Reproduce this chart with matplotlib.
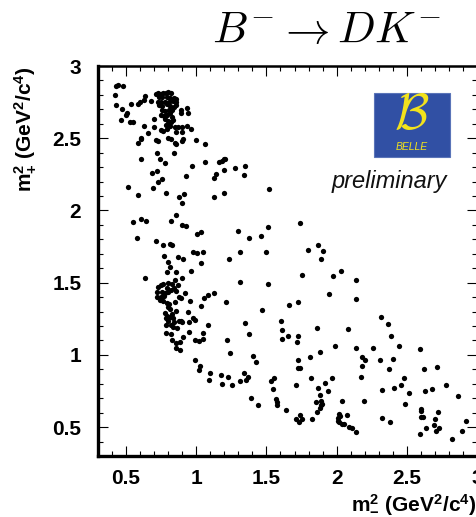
import numpy as np
import matplotlib
matplotlib.use("Agg")
import matplotlib.pyplot as plt
from matplotlib.patches import Rectangle
from matplotlib.ticker import MultipleLocator

plt.rcParams['font.family'] = ['Liberation Sans', 'DejaVu Sans']
plt.rcParams['mathtext.fontset'] = 'custom'
plt.rcParams['mathtext.rm'] = 'Liberation Sans:bold'
plt.rcParams['mathtext.bf'] = 'Liberation Sans:bold'
plt.rcParams['mathtext.it'] = 'Liberation Sans:bold'
plt.rcParams['mathtext.default'] = 'bf'

# B- -> D K- candidates, Dalitz variables (GeV^2/c^4)
m2_minus = [
    # low m2_minus, high m2_plus corner
    0.426, 0.442, 0.478, 0.421, 0.430, 0.473, 0.504, 0.497, 0.466, 0.525,
    0.549, 0.537, 0.585, 0.596, 0.634, 0.630, 0.679,
    0.715, 0.729, 0.746, 0.765, 0.784, 0.800, 0.817, 0.734, 0.758, 0.793,
    0.812, 0.841, 0.857, 0.724, 0.748, 0.774, 0.805, 0.834, 0.853, 0.734,
    0.758, 0.789, 0.812, 0.841, 0.857, 0.758, 0.777, 0.805, 0.829, 0.888,
    0.893, 0.933, 0.943, 0.746, 0.770, 0.789, 0.812, 0.824, 0.777, 0.798,
    0.817, 0.834, 0.805, 0.781, 0.815, 0.848, 0.872, 0.895, 0.936, 0.964,
    0.746, 0.765, 0.793, 0.857, 0.895, 0.698, 0.698, 0.627, 0.656, 0.713,
    0.724, 0.800, 0.819, 0.845, 0.857, 0.895, 0.905, 0.995, 1.061, 0.604,
    0.608, 0.587, 0.722, 0.741, 0.779, 0.841, 0.604, 0.687, 0.722, 0.724,
    0.753, 0.694, 0.513, 0.587, 0.781, 0.876, 0.912, 0.924, 0.971, 1.061,
    1.125, 1.142, 1.161, 1.180, 1.197, 1.208, 1.197, 1.275, 1.346, 1.341,
    1.125, 1.197,
    # middle band
    0.900, 0.549, 0.604, 0.639, 0.853, 0.817, 0.900, 0.924, 1.002, 1.035,
    1.299, 1.374, 0.575, 0.710, 0.765, 0.810, 0.829, 0.772, 0.800, 0.810,
    0.872, 0.905, 0.978, 1.007, 1.045, 1.035, 1.232, 1.313, 0.791, 0.853,
    0.966, 0.900, 0.632, 1.310,
    0.798, 0.746, 0.765, 0.848, 0.824, 0.869, 0.843, 0.729, 0.789, 0.722,
    0.755, 0.777, 0.798, 0.822, 0.853, 0.876, 0.890, 0.919, 0.717, 0.746,
    0.770, 0.739, 0.762, 0.789, 0.807, 0.800, 0.848, 0.857, 0.812, 0.826,
    0.777, 0.793, 0.812, 0.831, 0.781, 0.796, 0.841, 0.876, 0.893, 0.900,
    0.943, 0.955, 0.976, 0.988, 0.947, 0.786, 0.817, 0.834, 0.864, 1.033,
    1.054, 1.085, 1.123, 1.211, 1.085, 1.346,
    # lower left
    0.786, 0.817, 0.947, 1.047, 1.374, 0.829, 0.853, 0.883, 0.907, 0.857,
    0.881, 0.990, 1.023, 1.047, 1.220, 1.237, 0.990, 1.030, 1.019, 1.405,
    1.429, 1.095, 1.090, 1.173, 1.180, 1.225, 1.258, 1.313, 1.337, 1.351,
    1.367, 1.391, 1.441,
    # upper right
    1.520, 1.513, 1.458, 1.738, 1.494, 1.797, 1.868, 1.904, 1.892,
    # lower right
    1.513, 1.755, 1.973, 2.032, 2.141, 1.944, 2.136, 1.465, 1.660, 1.728,
    1.603, 1.610, 1.612, 1.655, 1.728, 1.719, 1.859, 2.082, 1.989, 1.878,
    1.809, 1.726, 1.738, 1.726, 1.553, 1.536, 1.546, 1.567, 1.574, 1.577,
    1.641, 1.714, 1.814, 1.866, 1.916, 1.937, 1.878, 1.970, 1.892, 1.897,
    1.887, 1.880, 1.859, 1.854, 1.709, 1.736, 1.731, 1.755, 1.826, 2.037,
    2.020, 2.027, 2.011, 2.011, 2.020, 2.039, 2.053, 2.077, 2.087, 2.110,
    2.141, 2.139, 2.179, 2.205, 2.184, 2.172, 2.196, 2.257, 2.310, 2.319,
    2.369, 2.385, 2.442, 2.400, 2.371, 2.326, 2.412, 2.480, 2.461, 2.516,
    2.490, 2.324, 2.381, 2.592, 2.625, 2.713, 2.779, 2.677, 2.627, 2.599,
    2.601, 2.599, 2.618, 2.635, 2.720, 2.703, 2.691, 2.729, 2.708, 2.594,
    2.824, 2.893, 2.865, 2.924,
]
m2_plus = [
    2.860, 2.870, 2.864, 2.802, 2.730, 2.705, 2.672, 2.659, 2.626, 2.615,
    2.610, 2.739, 2.740, 2.749, 2.795, 2.765, 2.760,
    2.804, 2.810, 2.806, 2.813, 2.815, 2.818, 2.810, 2.783, 2.788, 2.783,
    2.778, 2.776, 2.771, 2.753, 2.749, 2.749, 2.751, 2.755, 2.751, 2.730,
    2.723, 2.735, 2.723, 2.718, 2.732, 2.695, 2.689, 2.695, 2.695, 2.695,
    2.677, 2.712, 2.677, 2.661, 2.654, 2.661, 2.672, 2.649, 2.631, 2.622,
    2.615, 2.626, 2.603, 2.589, 2.585, 2.580, 2.575, 2.580, 2.585, 2.562,
    2.557, 2.550, 2.564, 2.545, 2.545, 2.580, 2.635, 2.587, 2.539, 2.488,
    2.481, 2.499, 2.492, 2.469, 2.460, 2.481, 2.495, 2.485, 2.458, 2.495,
    2.502, 2.465, 2.396, 2.354, 2.331, 2.396, 2.356, 2.262, 2.273, 2.199,
    2.216, 2.158, 2.165, 2.107, 2.123, 2.096, 2.112, 2.239, 2.308, 2.338,
    2.222, 2.252, 2.333, 2.342, 2.354, 2.356, 2.280, 2.292, 2.308, 2.246,
    2.091, 2.119,
    2.050, 1.923, 1.939, 1.930, 1.969, 1.927, 1.900, 1.893, 1.837, 1.854,
    1.858, 1.807, 1.812, 1.791, 1.759, 1.768, 1.764, 1.687, 1.646, 1.611,
    1.678, 1.667, 1.711, 1.708, 1.713, 1.639, 1.667, 1.711, 1.572, 1.577,
    1.584, 1.535, 1.535, 1.503,
    1.496, 1.484, 1.489, 1.519, 1.489, 1.487, 1.466, 1.473, 1.466, 1.438,
    1.438, 1.427, 1.438, 1.450, 1.443, 1.399, 1.395, 1.431, 1.404, 1.404,
    1.408, 1.381, 1.374, 1.358, 1.353, 1.335, 1.367, 1.307, 1.316, 1.284,
    1.288, 1.272, 1.261, 1.252, 1.254, 1.238, 1.231, 1.238, 1.235, 1.231,
    1.300, 1.376, 1.258, 1.240, 1.231, 1.208, 1.208, 1.192, 1.185, 1.339,
    1.392, 1.413, 1.427, 1.365, 1.208, 1.219,
    1.150, 1.143, 1.161, 1.154, 1.145, 1.104, 1.085, 1.087, 1.127, 1.050,
    1.034, 1.104, 1.094, 1.110, 1.104, 1.014, 0.965, 0.926, 0.896, 0.995,
    0.951, 0.873, 0.827, 0.861, 0.797, 0.850, 0.790, 0.822, 0.877, 0.824,
    0.845, 0.700, 0.654,
    2.149, 1.888, 1.826, 1.911, 1.710, 1.729, 1.759, 1.717, 1.662,
    1.492, 1.554, 1.545, 1.584, 1.517, 1.420, 1.386, 1.309, 1.344, 1.365,
    1.238, 1.171, 1.111, 1.132, 1.129, 1.086, 1.183, 1.178, 1.060, 1.021,
    0.984, 0.968, 0.910, 0.906, 0.843, 0.816, 0.765, 0.696, 0.677, 0.650,
    0.617, 0.795, 0.841, 0.770, 0.802, 0.747, 0.719, 0.841, 0.684, 0.661,
    0.650, 0.629, 0.603, 0.677, 0.555, 0.583, 0.534, 0.557, 0.555, 0.682,
    0.592, 0.580, 0.562, 0.543, 0.532, 0.520, 0.520, 0.587, 0.504, 0.493,
    0.467, 1.049, 0.984, 0.963, 0.926, 0.850, 0.684, 1.046, 0.966, 1.261,
    1.215, 1.129, 1.063, 0.973, 0.901, 0.756, 0.772, 0.841, 0.795, 0.735,
    0.661, 0.562, 0.534, 1.040, 0.901, 0.917, 0.793, 0.765, 0.753, 0.624,
    0.610, 0.573, 0.573, 0.497, 0.603, 0.555, 0.518, 0.493, 0.472, 0.449,
    0.417, 0.474, 0.714, 0.544,
]

x_ticks = [0.5, 1, 1.5, 2, 2.5, 3]
y_ticks = [0.5, 1, 1.5, 2, 2.5, 3]

fig = plt.figure(figsize=(4.77, 5.17), dpi=100)
ax = fig.add_axes([98 / 477, 61 / 517, 379 / 477, 390 / 517])

ax.plot(m2_minus, m2_plus, 'o', color='black', markersize=3.8, markeredgewidth=0)

ax.set_xlim(0.3, 3.0)
ax.set_ylim(0.3, 3.0)
ax.set_xticks(x_ticks)
ax.set_yticks(y_ticks)
ax.set_xticklabels(['0.5', '1', '1.5', '2', '2.5', '3'])
ax.set_yticklabels(['0.5', '1', '1.5', '2', '2.5', '3'])
ax.xaxis.set_minor_locator(MultipleLocator(0.1))
ax.yaxis.set_minor_locator(MultipleLocator(0.1))
ax.tick_params(which='both', direction='in', top=True, right=True, width=0.8)
ax.tick_params(which='major', length=7)
ax.tick_params(which='minor', length=3.5)
ax.tick_params(axis='x', pad=9)
ax.tick_params(axis='y', pad=12)
for lab in ax.get_xticklabels() + ax.get_yticklabels():
    lab.set_fontsize(15)
    lab.set_fontweight('bold')
for side, lw in [('left', 2.4), ('bottom', 2.4), ('top', 1.8), ('right', 1.8)]:
    ax.spines[side].set_linewidth(lw)

ax.set_xlabel(r'm$^{2}_{-}$ (GeV$^{2}$/c$^{4}$)', fontsize=15, fontweight='bold',
              loc='right', labelpad=4)
ax.set_ylabel(r'm$^{2}_{+}$ (GeV$^{2}$/c$^{4}$)', fontsize=15, fontweight='bold',
              loc='top', labelpad=10)

# title in TeX-like font
fig.text(327 / 477, 1 - 43 / 517,
         r'$\mathit{B}^{-} \rightarrow \mathit{DK}^{-}$', fontsize=32,
         ha='center', va='baseline', math_fontfamily='cm')

# Belle logo
ax.add_patch(Rectangle((0.7275, 0.767), 0.201, 0.164, transform=ax.transAxes,
                       facecolor='#3150a4', edgecolor='#5a74b8', linewidth=0.8,
                       zorder=5))
ax.text(0.828, 0.872, r'$\mathcal{B}$', transform=ax.transAxes, fontsize=36,
        color='#f2e21c', ha='center', va='center', math_fontfamily='cm', zorder=6)
ax.text(0.828, 0.793, 'BELLE', transform=ax.transAxes, fontsize=7.5,
        style='italic', color='#f2e21c', ha='center', va='center', zorder=6)
ax.text(0.770, 0.705, 'preliminary', transform=ax.transAxes, fontsize=17,
        style='italic', color='#111111', ha='center', va='center')

fig.savefig('out.png', dpi=100)
